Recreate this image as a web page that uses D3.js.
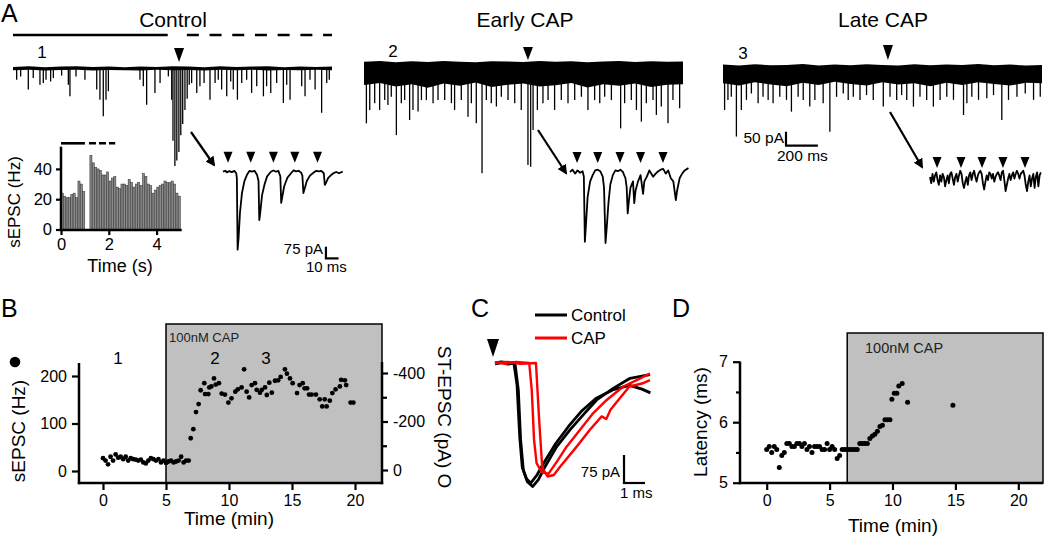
<!DOCTYPE html>
<html>
<head>
<meta charset="utf-8">
<script src="https://cdn.jsdelivr.net/npm/d3@7"></script>
<style>
  body { margin: 0; background: #fff; }
  svg { display: block; }
</style>
</head>
<body>
<div id="chart"></div>
<script>
const FONT = '"Liberation Sans", Arial, Helvetica, sans-serif';

// ---------- A: long traces, events as [time ms, amplitude pA (downward)] ----------
const ctrlEvents = [[23,42],[48,30],[96,77],[127,36],[169,60],[190,54],[207,42],[236,48],[253,36],[305,27],[347,60],[357,101],[395,30],[451,42],[525,77],[545,113],[566,172],[583,113],[598,83],[796,42],[817,65],[838,131],[890,89],[922,54],[974,30],[995,113],[1003,260],[1015,350],[1027,330],[1040,300],[1052,240],[1064,200],[1078,150],[1092,110],[1105,60],[1120,54],[1152,89],[1172,65],[1198,54],[1235,113],[1267,54],[1287,42],[1308,77],[1340,101],[1365,48],[1381,77],[1407,113],[1434,54],[1465,42],[1496,89],[1528,65],[1570,101],[1590,65],[1616,89],[1653,54],[1695,125],[1716,60],[1737,113],[1810,65],[1831,101],[1862,42],[1894,77],[1935,160],[1967,54],[1983,42]];
const earlyEvents = [[15,212],[36,164],[67,140],[98,164],[130,129],[150,146],[171,117],[203,254],[234,140],[255,129],[286,200],[307,164],[339,170],[360,129],[391,129],[433,140],[464,129],[506,129],[548,140],[568,164],[610,129],[652,188],[673,140],[704,212],[740,390],[767,129],[798,140],[830,152],[861,117],[903,129],[945,140],[986,164],[1028,361],[1045,367],[1060,236],[1087,164],[1122,140],[1154,129],[1195,164],[1237,129],[1279,140],[1321,129],[1363,117],[1404,164],[1446,129],[1478,140],[1509,117],[1551,129],[1609,230],[1634,140],[1676,129],[1708,164],[1739,206],[1770,140],[1812,129],[1833,182],[1864,152],[1906,212],[1937,129],[1979,158]];
const lateEvents = [[10,157],[31,121],[52,110],[84,252],[115,157],[147,121],[178,98],[220,133],[251,110],[283,121],[314,133],[356,110],[398,121],[429,163],[471,110],[503,121],[544,145],[576,121],[628,133],[670,235],[712,110],[754,98],[785,121],[817,110],[859,121],[900,104],[942,121],[1005,145],[1047,110],[1089,121],[1120,104],[1152,121],[1194,145],[1235,110],[1277,121],[1319,145],[1361,121],[1403,110],[1445,121],[1508,175],[1529,133],[1560,110],[1602,121],[1654,115],[1696,104],[1748,193],[1790,121],[1843,110],[1895,98],[1947,121],[1989,110]];

// baseline noise envelope, sampled every 100 ms (pA, + up / - down)
const ctrlBandTop  = [4,6,3,5,6,4,5,3,5,4,6,5,3,6,4,5,6,3,5,4,5];
const ctrlBandBot  = [-8,-6,-9,-7,-6,-9,-7,-8,-9,-6,-8,-7,-9,-6,-8,-6,-9,-7,-8,-6,-8];
const earlyBandTop = [8,11,6,10,7,11,8,6,10,9,7,11,8,10,6,9,11,7,10,8,9];
const earlyBandBot = [-75,-68,-80,-72,-85,-70,-78,-66,-82,-74,-70,-80,-76,-68,-84,-72,-78,-70,-82,-74,-72];
const lateBandTop  = [5,2,6,3,4,7,2,5,3,6,4,2,6,3,5,4,7,3,5,2,4];
const lateBandBot  = [-62,-70,-58,-66,-72,-60,-68,-56,-64,-70,-58,-66,-62,-72,-60,-68,-58,-64,-70,-60,-62];

// time of the expanded segment (arrowhead) in each trace, ms
const zoomTimes = [1041, 1028, 1034];

// expanded segments: [time ms, current pA]
const ctrlZoom = [[0,0],[2,6],[3,-4],[5,4],[7,-3],[9,5],[10.5,-10],[11,-40],[11.6,-500],[12.4,-420],[13.5,-260],[15,-140],[17,-60],[19,-20],[21,5],[23,0],[25,6],[27,-20],[28.2,-60],[28.8,-310],[29.6,-260],[31,-150],[33,-80],[35,-30],[38,0],[40,8],[42,0],[44,5],[45.5,-30],[46.2,-200],[47,-165],[48.5,-95],[51,-40],[54,-10],[56,8],[58,2],[60,6],[62,-6],[63,-25],[63.8,-137],[64.8,-110],[66.5,-60],[69,-25],[72,-5],[74,6],[76,2],[78,5],[80,-10],[80.8,-85],[81.8,-70],[83.5,-40],[86,-20],[88,-8],[90,-2],[92,-10],[95,0]];
const earlyZoom = [[0,0],[2,15],[4,-10],[6,10],[8,-5],[10,5],[11,-30],[11.8,-447],[12.8,-320],[14,-160],[16,-60],[18,-20],[20,10],[22,15],[24,5],[26,-30],[27,-100],[28.2,-455],[29.2,-350],[30.5,-200],[32,-80],[34,-20],[36,10],[38,5],[40,15],[42,0],[44,-40],[45,-100],[45.8,-265],[46.8,-180],[48,-100],[50,-60],[51,-200],[52,-120],[54,-60],[56,-20],[58,-140],[59,-60],[61,-30],[63,10],[66,-30],[68,-10],[70,5],[72,15],[74,20],[76,-10],[78,10],[80,-40],[82,-60],[84,-180],[85,-120],[87,-40],[89,-10],[91,10],[93,20],[94,25]];
const lateZoom = [[0,0],[1,-40],[2,20],[3,-30],[4,10],[5,30],[6,-20],[7,-50],[8,10],[9,-30],[10,20],[11,0],[12,-60],[13,-20],[14,10],[15,-40],[16,20],[17,30],[18,-10],[19,-50],[20,0],[21,20],[22,-30],[23,10],[24,40],[25,20],[26,-40],[27,-70],[28,-30],[29,0],[30,-50],[31,10],[32,30],[33,-20],[34,20],[35,40],[36,0],[37,-30],[38,10],[39,30],[40,40],[41,20],[42,-40],[43,-80],[44,-30],[45,10],[46,-20],[47,30],[48,20],[49,-10],[50,20],[51,-30],[52,0],[53,20],[54,30],[55,10],[56,-20],[57,30],[58,40],[59,-20],[60,-90],[61,-50],[62,-10],[63,20],[64,-20],[65,10],[66,30],[67,-10],[68,20],[69,40],[70,20],[71,-10],[72,20],[73,30],[74,40],[75,10],[76,-50],[77,-90],[78,-30],[79,10],[80,-60],[81,-10],[82,20],[83,-70],[84,0],[85,30],[86,-60],[87,10],[88,30]];
// stimulus times in expanded segments (ms)
const ctrlStim = [4, 22, 40, 57, 75];
const earlyStim = [5.6, 22, 39.7, 56, 73.8];
const lateStim = [5.6, 24.6, 41.3, 57.9, 75.4];

// A inset: sEPSC histogram, 0.1 s bins
const histRate = [24,22,21,21,23,24,21,32,30,25, 0,0, 49,44,41,40,39,36,36,38, 32,34,35,28,27,30,30,29,33,31, 28,30,31,29,37,35,30,29,24,26, 28,29,30,32,31,31,32,30,24,22];

// ---------- B: sEPSC rate vs time ----------
const bTime = [0,0.2,0.4,0.6,0.8,1.0,1.2,1.4,1.6,1.8,2.0,2.2,2.4,2.6,2.8,3.0,3.2,3.4,3.6,3.8,4.0,4.2,4.4,4.6,4.8,5.0,5.2,5.4,5.6,5.8,6.0,6.2,6.4,6.6,6.8,
  6.96,7.17,7.38,7.59,7.75,8.04,8.1,8.36,8.44,8.6,8.81,8.95,9.2,9.42,9.68,9.95,10.2,10.5,10.7,11.0,11.2,11.4,11.6,11.8,12.06,12.2,12.46,12.6,12.86,13.0,13.2,13.4,13.65,13.9,14.1,14.44,14.6,14.84,15.05,15.4,15.6,15.85,16.0,16.2,16.35,16.56,16.9,17.2,17.4,17.6,17.75,18.0,18.2,18.46,18.8,18.9,19.2,19.3,19.65,19.87];
const bRate = [27,22,14,30,22,35,28,30,25,30,22,27,25,24,22,24,18,16,22,27,25,22,25,18,22,17,20,22,18,20,22,30,18,22,22,
  69,88,124,141,170,185,162,162,176,178,195,182,185,163,161,144,153,167,172,176,214,167,155,181,185,171,165,171,176,160,186,165,190,191,198,214,205,195,185,164,181,185,174,174,161,161,161,151,136,151,136,148,164,172,178,192,191,181,144,144];
const bCapStart = 5;

// ---------- C: evoked ST-EPSCs [ms, pA] ----------
const ctrlTraces = [
  [[0,0],[0.3,3],[0.6,-3],[0.95,0],[1.11,-72],[1.22,-206],[1.35,-287],[1.54,-318],[1.79,-331],[2.06,-313],[2.38,-278],[2.94,-224],[3.57,-179],[4.2,-139],[4.84,-99],[5.63,-68],[6.43,-41],[7.38,-31]],
  [[0,-2],[0.4,2],[0.9,0],[1.05,-60],[1.18,-200],[1.3,-280],[1.5,-310],[1.7,-322],[2.0,-300],[2.3,-270],[2.9,-215],[3.5,-170],[4.1,-130],[4.8,-95],[5.6,-72],[6.4,-60],[7.0,-70],[7.4,-80]]
];
const capTraces = [
  [[0,2],[0.5,-2],[1.0,3],[1.63,0],[1.75,-72],[1.86,-206],[1.98,-268],[2.22,-292],[2.54,-297],[2.94,-265],[3.41,-224],[4.05,-179],[4.68,-134],[5.32,-99],[6.11,-63],[6.75,-46],[7.38,-28]],
  [[0,0],[0.6,3],[1.2,-2],[1.95,0],[2.1,-150],[2.25,-280],[2.5,-304],[2.8,-300],[3.1,-278],[3.89,-224],[4.52,-179],[5.08,-143],[5.3,-150],[5.5,-125],[5.76,-107],[6.4,-63],[7.0,-55],[7.38,-46]]
];

// ---------- D: latency vs time ----------
const dTime = [0,0.2,0.4,0.6,0.8,1.0,1.2,1.4,1.6,1.8,2.0,2.2,2.4,2.6,2.8,3.0,3.2,3.4,3.6,3.8,4.0,4.2,4.4,4.6,4.8,5.0,5.2,5.4,5.6,5.8,6.0,6.2,6.4,6.6,6.8,7.0,7.2,7.4,7.6,7.8,8.0,8.2,8.4,8.6,8.8,9.0,9.2,9.4,9.6,9.8,9.95,10.14,10.35,10.5,10.77,11.2,14.8];
const dLatency = [5.55,5.6,5.5,5.6,5.55,5.25,5.45,5.5,5.65,5.65, 5.6,5.6,5.65,5.65,5.6,5.65,5.55,5.6,5.5,5.6, 5.6,5.6,5.55,5.55,5.65,5.55,5.6,5.55,5.4,5.45, 5.55,5.55,5.55,5.55,5.55,5.55,5.55,5.65,5.65,5.65, 5.65,5.73,5.77,5.8,5.85,5.93,5.95,6.04,6.04,6.04, 6.38,6.48,6.48,6.6,6.64,6.33,6.28];
const dCapStart = 6.4;

// ---------- helpers ----------
const svg = d3.select('#chart').append('svg').attr('width', 1050).attr('height', 538);
svg.append('rect').attr('width', 1050).attr('height', 538).attr('fill', '#fff');

svg.append('defs').append('marker')
  .attr('id', 'ah').attr('viewBox', '0 0 10 10').attr('refX', 8).attr('refY', 5)
  .attr('markerWidth', 4.5).attr('markerHeight', 4.5).attr('orient', 'auto')
  .append('path').attr('d', 'M0,0 L10,5 L0,10 Z').attr('fill', '#000');

const intFmt = d => String(d);

function label(g, x, y, str, size, opts = {}) {
  const t = g.append('text').attr('x', x).attr('y', y).text(str)
    .attr('font-family', FONT).attr('font-size', size)
    .attr('text-anchor', opts.anchor || 'start').attr('fill', opts.fill || '#000');
  if (opts.rotate) t.attr('transform', `rotate(${opts.rotate},${x},${y})`);
  return t;
}

function styleAxis(g, size) {
  g.select('.domain').remove();
  g.selectAll('.tick line').attr('stroke', '#000').attr('stroke-width', 2.2);
  g.selectAll('.tick text').attr('font-size', size).attr('font-family', FONT).attr('fill', '#000');
}

function hline(g, x1, x2, y, w) {
  g.append('line').attr('x1', x1).attr('x2', x2).attr('y1', y).attr('y2', y)
    .attr('stroke', '#000').attr('stroke-width', w || 2.5);
}
function vline(g, x, y1, y2, w) {
  g.append('line').attr('x1', x).attr('x2', x).attr('y1', y1).attr('y2', y2)
    .attr('stroke', '#000').attr('stroke-width', w || 2.5);
}

function stimMark(g, x, top, w, h) {
  g.append('path').attr('d', `M${x - w / 2},${top} L${x + w / 2},${top} L${x},${top + h} Z`).attr('fill', '#000');
}

const bandTimes = d3.range(0, 2001, 100);

function longTrace(x0, x1, y0, top, bot, events) {
  const g = svg.append('g');
  const x = d3.scaleLinear().domain([0, 2000]).range([x0, x1]);
  const y = d3.scaleLinear().domain([0, -50]).range([y0, y0 + 14]); // 50 pA = 14 px
  g.append('path')
    .datum(bandTimes)
    .attr('d', d3.area().x(d => x(d)).y0((d, i) => y(bot[i])).y1((d, i) => y(top[i])))
    .attr('fill', '#000');
  g.selectAll('line.ev').data(events).join('line').attr('class', 'ev')
    .attr('x1', d => x(d[0])).attr('x2', d => x(d[0]))
    .attr('y1', y(0)).attr('y2', d => y(-d[1]))
    .attr('stroke', '#000').attr('stroke-width', 1.3);
  return { x, y, g };
}

function zoomTrace(x0, y0, pts, stims) {
  const g = svg.append('g');
  const x = d3.scaleLinear().domain([0, 10]).range([x0, x0 + 12.6]);   // 10 ms = 12.6 px
  const y = d3.scaleLinear().domain([0, -75]).range([y0, y0 + 11.7]);  // 75 pA = 11.7 px
  g.append('path').datum(pts)
    .attr('d', d3.line().x(d => x(d[0])).y(d => y(d[1])))
    .attr('fill', 'none').attr('stroke', '#000').attr('stroke-width', 1.8).attr('stroke-linejoin', 'round');
  stims.forEach(s => stimMark(g, x(s), y0 - 20, 9, 11));
  return { x, y };
}

// ================= Panel A =================
const gA = svg.append('g');
label(gA, 1, 22, 'A', 25);
label(gA, 173, 27, 'Control', 21, { anchor: 'middle' });
label(gA, 525, 27, 'Early CAP', 21, { anchor: 'middle' });
label(gA, 883, 27, 'Late CAP', 21, { anchor: 'middle' });
label(gA, 42, 58, '1', 17, { anchor: 'middle' });
label(gA, 393, 57, '2', 17, { anchor: 'middle' });
label(gA, 743, 59, '3', 17, { anchor: 'middle' });

const tCtrl = longTrace(13, 332, 68, ctrlBandTop, ctrlBandBot, ctrlEvents);
const tEarly = longTrace(364, 683, 64, earlyBandTop, earlyBandBot, earlyEvents);
const tLate = longTrace(723, 1042, 66, lateBandTop, lateBandBot, lateEvents);

// stimulus period bar above control trace
hline(gA, tCtrl.x(0), tCtrl.x(970), 35, 2.6);
gA.append('line').attr('x1', tCtrl.x(1090)).attr('x2', tCtrl.x(2000)).attr('y1', 35).attr('y2', 35)
  .attr('stroke', '#000').attr('stroke-width', 2.6).attr('stroke-dasharray', '12,10.7');

stimMark(gA, tCtrl.x(zoomTimes[0]), 48, 10, 14);
stimMark(gA, tEarly.x(zoomTimes[1]), 47, 10, 13);
stimMark(gA, tLate.x(zoomTimes[2]), 45, 10, 15);

// arrows to expanded segments
[[191, 132, 214, 165], [538, 130, 566, 173], [890, 112, 922, 167]].forEach(a => {
  gA.append('line').attr('x1', a[0]).attr('y1', a[1]).attr('x2', a[2]).attr('y2', a[3])
    .attr('stroke', '#000').attr('stroke-width', 2.2).attr('marker-end', 'url(#ah)');
});

const zc = zoomTrace(223, 171.7, ctrlZoom, ctrlStim);
zoomTrace(570, 172, earlyZoom, earlyStim);
zoomTrace(930, 177, lateZoom, lateStim);

// scale bars
vline(gA, zc.x(81.7), zc.y(0) + 75, zc.y(-75) + 75, 2.2);
hline(gA, zc.x(81.7) - 1.1, zc.x(91.7), zc.y(-75) + 75, 2.2);
label(gA, 323, 254, '75 pA', 15, { anchor: 'end' });
label(gA, 306, 272, '10 ms', 15);

vline(gA, 786, 131.7, 145.7, 2.2);
hline(gA, 785, 786 + (tLate.x(200) - tLate.x(0)), 145.7, 2.2);
label(gA, 784, 143, '50 pA', 15.5, { anchor: 'end' });
label(gA, 777, 161, '200 ms', 15.5);

// inset histogram
const hx = d3.scaleLinear().domain([0, 5]).range([61, 180.5]);
const hy = d3.scaleLinear().domain([0, 20]).range([229.5, 199.2]);
const gH = svg.append('g');
gH.selectAll('rect').data(histRate).join('rect')
  .attr('x', (d, i) => hx(i * 0.1) + 0.2)
  .attr('width', hx(0.1) - hx(0) - 0.3)
  .attr('y', d => hy(d))
  .attr('height', d => hy(0) - hy(d))
  .attr('fill', '#8a8a8a').attr('stroke', '#2a2a2a').attr('stroke-width', 0.5);
vline(gH, 61, 146.7, 231);
hline(gH, 59.8, 181.7, 230);
gH.append('g').attr('transform', 'translate(61,0)')
  .call(d3.axisLeft(hy).tickValues([0, 20, 40]).tickFormat(intFmt).tickSize(5).tickPadding(4).tickSizeOuter(0))
  .call(g => styleAxis(g, 16.5));
gH.append('g').attr('transform', 'translate(0,230)')
  .call(d3.axisBottom(hx).tickValues([0, 2, 4]).tickFormat(intFmt).tickSize(5).tickPadding(3).tickSizeOuter(0))
  .call(g => styleAxis(g, 16.5));
label(gH, 120, 272, 'Time (s)', 18, { anchor: 'middle' });
label(gH, 20, 202, 'sEPSC (Hz)', 17, { anchor: 'middle', rotate: -90 });
hline(gH, hx(0), hx(1.0), 143.3, 2.6);
gH.append('line').attr('x1', hx(1.17)).attr('x2', hx(2.27)).attr('y1', 143.3).attr('y2', 143.3)
  .attr('stroke', '#000').attr('stroke-width', 2.6).attr('stroke-dasharray', '7,3');

// ================= Panel B =================
const gB = svg.append('g');
const bx = d3.scaleLinear().domain([0, 20]).range([103, 355]);
const by = d3.scaleLinear().domain([0, 200]).range([471, 376]);
const byR = d3.scaleLinear().domain([0, -400]).range([470, 373]);

gB.append('rect').attr('x', bx(bCapStart)).attr('y', 324)
  .attr('width', 382 - bx(bCapStart)).attr('height', 483 - 324)
  .attr('fill', '#c0c0c0').attr('stroke', '#000').attr('stroke-width', 1.5);
label(gB, bx(bCapStart) + 3, 342, '100nM CAP', 13, { fill: '#222' });
label(gB, 118, 364, '1', 17, { anchor: 'middle' });
label(gB, 215, 364, '2', 17, { anchor: 'middle' });
label(gB, 266, 364, '3', 17, { anchor: 'middle' });

gB.selectAll('circle').data(bTime).join('circle')
  .attr('cx', d => bx(d)).attr('cy', (d, i) => by(bRate[i])).attr('r', 2.4).attr('fill', '#000');

vline(gB, 79, 363, 484.2);
hline(gB, 77.8, 383.2, 483);
vline(gB, 382, 362, 484.2);
gB.append('g').attr('transform', 'translate(79,0)')
  .call(d3.axisLeft(by).tickValues([0, 100, 200]).tickFormat(intFmt).tickSize(7).tickPadding(5).tickSizeOuter(0))
  .call(g => styleAxis(g, 16));
gB.append('g').attr('transform', 'translate(0,483)')
  .call(d3.axisBottom(bx).tickValues([0, 5, 10, 15, 20]).tickFormat(intFmt).tickSize(7).tickPadding(5).tickSizeOuter(0))
  .call(g => styleAxis(g, 16));
gB.append('g').attr('transform', 'translate(382,0)')
  .call(d3.axisRight(byR).tickValues([0, -200, -400]).tickFormat(intFmt).tickSize(6).tickPadding(5).tickSizeOuter(0))
  .call(g => styleAxis(g, 16));
gB.append('g').attr('transform', 'translate(382,0)')
  .call(d3.axisRight(byR).tickValues([-100, -300]).tickFormat('').tickSize(5).tickSizeOuter(0))
  .call(g => styleAxis(g, 16));

label(gB, 1, 317, 'B', 25);
label(gB, 229, 525, 'Time (min)', 19, { anchor: 'middle' });
label(gB, 25, 431, 'sEPSC (Hz)', 19, { anchor: 'middle', rotate: -90 });
gB.append('circle').attr('cx', 15).attr('cy', 362).attr('r', 5.3).attr('fill', '#000');
label(gB, 438, 417, 'ST-EPSC (pA) O', 19, { anchor: 'middle', rotate: 90 });

// ================= Panel C =================
const gC = svg.append('g');
const cx = d3.scaleLinear().domain([0, 1]).range([495, 516]);      // 1 ms = 21 px
const cy = d3.scaleLinear().domain([0, -75]).range([363, 391]);    // 75 pA = 28 px
const cLine = d3.line().x(d => cx(d[0])).y(d => cy(d[1]));
label(gC, 471, 317, 'C', 25);
stimMark(gC, 493, 339, 12, 18);
gC.selectAll('path.ctrl').data(ctrlTraces).join('path').attr('class', 'ctrl')
  .attr('d', cLine).attr('fill', 'none').attr('stroke', '#000').attr('stroke-width', 2.8).attr('stroke-linejoin', 'round');
gC.selectAll('path.cap').data(capTraces).join('path').attr('class', 'cap')
  .attr('d', cLine).attr('fill', 'none').attr('stroke', '#f00').attr('stroke-width', 2.4).attr('stroke-linejoin', 'round');

gC.append('line').attr('x1', 535).attr('x2', 567).attr('y1', 315).attr('y2', 315).attr('stroke', '#000').attr('stroke-width', 3);
gC.append('line').attr('x1', 535).attr('x2', 567).attr('y1', 338).attr('y2', 338).attr('stroke', '#f00').attr('stroke-width', 3);
label(gC, 571, 321, 'Control', 17);
label(gC, 571, 344, 'CAP', 17);

vline(gC, 624, 455, cy(-75) + 92, 2.2);
hline(gC, 622.9, 624 + (cx(1) - cx(0)), 483, 2.2);
label(gC, 620, 477, '75 pA', 15, { anchor: 'end' });
label(gC, 620, 498, '1 ms', 15);

// ================= Panel D =================
const gD = svg.append('g');
const dx = d3.scaleLinear().domain([0, 20]).range([766.7, 1018.3]);
const dy = d3.scaleLinear().domain([5, 7]).range([482.7, 361.7]);

gD.append('rect').attr('x', dx(dCapStart)).attr('y', 333)
  .attr('width', 1043 - dx(dCapStart)).attr('height', 483 - 333)
  .attr('fill', '#c0c0c0').attr('stroke', '#000').attr('stroke-width', 1.5);
label(gD, 865, 353, '100nM CAP', 14.5, { fill: '#222' });

gD.selectAll('circle').data(dTime).join('circle')
  .attr('cx', d => dx(d)).attr('cy', (d, i) => dy(dLatency[i])).attr('r', 2.5).attr('fill', '#000');

vline(gD, 740, 361.5, 484.2);
hline(gD, 738.8, 1043, 483);
gD.append('g').attr('transform', 'translate(740,0)')
  .call(d3.axisLeft(dy).tickValues([5, 6, 7]).tickFormat(intFmt).tickSize(7).tickPadding(5).tickSizeOuter(0))
  .call(g => styleAxis(g, 16));
gD.append('g').attr('transform', 'translate(740,0)')
  .call(d3.axisLeft(dy).tickValues([5.5, 6.5]).tickFormat('').tickSize(4).tickSizeOuter(0))
  .call(g => styleAxis(g, 16));
gD.append('g').attr('transform', 'translate(0,483)')
  .call(d3.axisBottom(dx).tickValues([0, 5, 10, 15, 20]).tickFormat(intFmt).tickSize(7).tickPadding(5).tickSizeOuter(0))
  .call(g => styleAxis(g, 16));

label(gD, 672, 317, 'D', 25);
label(gD, 893, 532, 'Time (min)', 19, { anchor: 'middle' });
label(gD, 707, 422, 'Latency (ms)', 19, { anchor: 'middle', rotate: -90 });
</script>
</body>
</html>
